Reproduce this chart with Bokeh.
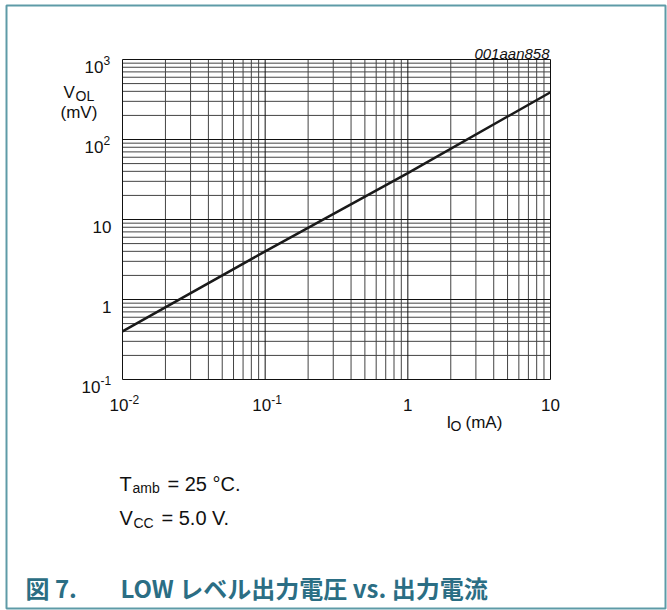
from bokeh.plotting import figure
from bokeh.models import Label
from bokeh.embed import file_html
from bokeh.resources import INLINE
import math

# data
io_ma = [0.01, 0.1, 1, 10]
vol_mv = [0.4, 4.0, 38, 390]

x_ticks = [0.01, 0.1, 1, 10]
x_tick_base = ["10", "10", "1", "10"]
x_tick_exp = ["-2", "-1", "", ""]
y_ticks = [0.1, 1, 10, 100, 1000]
y_tick_base = ["10", "1", "10", "10", "10"]
y_tick_exp = ["-1", "", "", "2", "3"]

FONT = "Liberation Sans"
CJK = "Noto Sans CJK JP"
TEAL = "#2b6e84"
BORDER = "#5e9ba7"

W, H = 667, 610
# plot box placement in canvas pixels
PL, PR, PT, PB = 122, 550, 59, 379
XLO, XHI = x_ticks[0], x_ticks[-1]
YLO, YHI = y_ticks[0], y_ticks[-1]
DX = (PR - PL) / (math.log10(XHI) - math.log10(XLO))
DY = (PB - PT) / (math.log10(YHI) - math.log10(YLO))


def px_x(px):
    return 10 ** (math.log10(XLO) + (px - PL) / DX)


def px_y(py):
    return 10 ** (math.log10(YLO) + (PB - py) / DY)


p = figure(width=W, height=H, x_axis_type="log", y_axis_type="log",
           x_range=(px_x(0), px_x(W)), y_range=(px_y(H), px_y(0)),
           output_backend="svg", toolbar_location=None,
           min_border_left=0, min_border_right=0,
           min_border_top=0, min_border_bottom=0)
p.axis.visible = False
p.grid.visible = False
p.background_fill_color = "white"
p.border_fill_color = "white"
p.outline_line_color = None


def minors(lo, hi):
    out = []
    d = lo
    while d < hi * 0.999:
        out += [d * k for k in range(2, 10)]
        d *= 10
    return out


xmin = minors(XLO, XHI)
ymin = minors(YLO, YHI)
p.segment(x0=xmin, x1=xmin, y0=[YLO] * len(xmin), y1=[YHI] * len(xmin),
          line_color="#444444", line_width=1)
p.segment(x0=[XLO] * len(ymin), x1=[XHI] * len(ymin), y0=ymin, y1=ymin,
          line_color="#444444", line_width=1)
p.segment(x0=x_ticks, x1=x_ticks, y0=[YLO] * len(x_ticks),
          y1=[YHI] * len(x_ticks), line_color="#111111", line_width=1)
p.segment(x0=[XLO] * len(y_ticks), x1=[XHI] * len(y_ticks), y0=y_ticks,
          y1=y_ticks, line_color="#111111", line_width=1)

p.line(io_ma, vol_mv, line_color="#1a1a1a", line_width=2.5)

# outer figure border
p.quad(left=[px_x(6)], right=[px_x(665)], top=[px_y(5)], bottom=[px_y(608)],
       fill_alpha=0, line_color=BORDER, line_width=2)


def lab(x, y, text, xo, yo, size, align="left", style="normal", font=FONT,
        color="#111111", baseline="alphabetic"):
    p.add_layout(Label(x=x, y=y, text=text, x_offset=xo, y_offset=yo,
                       text_font=font, text_font_size=f"{size}px",
                       text_align=align, text_baseline=baseline,
                       text_font_style=style, text_color=color))


# x tick labels
for t, b, e in zip(x_ticks, x_tick_base, x_tick_exp):
    if e:
        lab(t, YLO, b, 6, -25, 17, align="right")
        lab(t, YLO, e, 6, -20, 12, align="left")
    else:
        lab(t, YLO, b, 0, -25, 17, align="center")

# y tick labels
for t, b, e in zip(y_ticks, y_tick_base, y_tick_exp):
    if e:
        split = -22 if e.startswith("-") else -19
        lab(XLO, t, b, split, -7, 17, align="right")
        lab(XLO, t, e, split, -1, 12, align="left")
    else:
        lab(XLO, t, b, -11, -7, 17, align="right")

# axis titles
lab(XLO, YHI, "V", -59, -33, 17)
lab(XLO, YHI, "OL", -47, -36, 14)
lab(XLO, YHI, "(mV)", -62, -53, 17)
lab(XLO, YLO, "I", 324, -43, 17)
lab(XLO, YLO, "O", 328, -46, 14)
lab(XLO, YLO, "(mA)", 343, -43, 17)

# code
lab(XHI, YHI, "001aan858", -1, 6, 15, align="right", style="italic")

# conditions
lab(XLO, YLO, "T", -3, -104, 20)
lab(XLO, YLO, "amb", 10, -108, 14)
lab(XLO, YLO, "= 25 °C.", 45, -104, 20)
lab(XLO, YLO, "V", -3, -138, 20)
lab(XLO, YLO, "CC", 11, -143, 14)
lab(XLO, YLO, "= 5.0 V.", 39, -138, 20)

# caption
lab(XLO, YLO, "図 7.", -97, -208, 24, style="bold", font=CJK, color=TEAL,
    baseline="middle")
lab(XLO, YLO, "LOW レベル出力電圧 vs. 出力電流", -2, -208, 24, style="bold",
    font=CJK, color=TEAL, baseline="middle")

open("out.html", "w").write(file_html(p, INLINE))
